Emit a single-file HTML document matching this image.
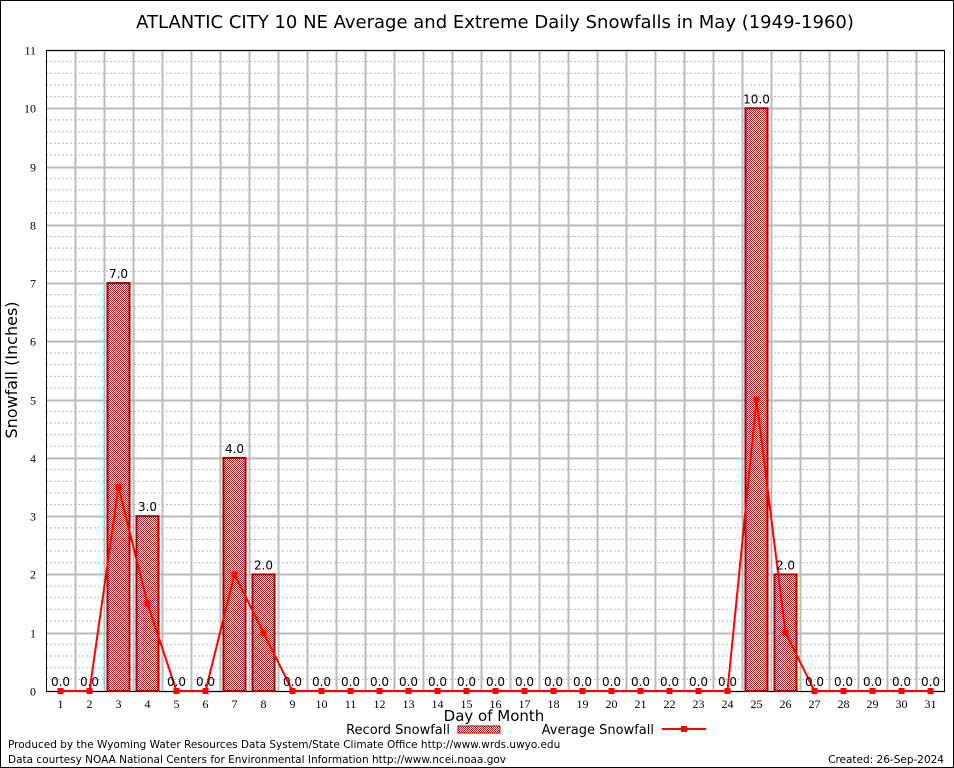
<!DOCTYPE html>
<html><head><meta charset="utf-8"><style>
body{margin:0;background:#fff;}
svg{display:block;}
.t{font-family:"DejaVu Sans","Liberation Sans",sans-serif;}
.s{font-family:"Liberation Serif",serif;}
</style></head><body>
<svg id="c" width="954" height="768">
<defs>
<pattern id="chk" width="2" height="2" patternUnits="userSpaceOnUse">
<rect width="2" height="2" fill="#fff"/><rect width="1" height="1" fill="#b02020"/><rect x="1" y="1" width="1" height="1" fill="#b02020"/>
</pattern>
</defs>
<rect x="0.5" y="0.5" width="953" height="767" fill="none" stroke="#000"/>
<text class="t" x="495" y="28" font-size="18" text-anchor="middle">ATLANTIC CITY 10 NE Average and Extreme Daily Snowfalls in May (1949-1960)</text>
<g id="grid"></g>
<g id="bars"></g>
<g id="line"></g>
<g id="labels"></g>
<text class="t" x="17" y="370" font-size="16" text-anchor="middle" transform="rotate(-90 17 370)">Snowfall (Inches)</text>
<text class="t" x="494" y="721" font-size="15" text-anchor="middle">Day of Month</text>
<g>
<text class="t" x="450" y="734" font-size="13" text-anchor="end">Record Snowfall</text>
<rect x="458" y="726" width="42" height="7" fill="url(#chk)" stroke="#a00000"/>
</g>
<g>
<text class="t" x="654" y="734" font-size="13" text-anchor="end">Average Snowfall</text>
<line x1="662" y1="729" x2="706" y2="729" stroke="red" stroke-width="2"/>
<rect x="681" y="726" width="6" height="6" fill="red"/>
</g>
<text class="t" x="8" y="748" font-size="10.5">Produced by the Wyoming Water Resources Data System/State Climate Office http://www.wrds.uwyo.edu</text>
<text class="t" x="8" y="763" font-size="10.5">Data courtesy NOAA National Centers for Environmental Information http://www.ncei.noaa.gov</text>
<text class="t" x="944" y="763" font-size="10.5" text-anchor="end">Created:  26-Sep-2024</text>
</svg>
<script>
const days=[1,2,3,4,5,6,7,8,9,10,11,12,13,14,15,16,17,18,19,20,21,22,23,24,25,26,27,28,29,30,31];
const recordSnow=[0,0,7,3,0,0,4,2,0,0,0,0,0,0,0,0,0,0,0,0,0,0,0,0,10,2,0,0,0,0,0];
const avgSnow=[0,0,3.5,1.5,0,0,2,1,0,0,0,0,0,0,0,0,0,0,0,0,0,0,0,0,5,1,0,0,0,0,0];
const yTicks=[0,1,2,3,4,5,6,7,8,9,10,11];
const X0=46,X1=945,Y0=691,Y1=50,YMAX=11;
const dw=(X1-X0)/days.length;
const xs=d=>X0+(d-0.5)*dw;
const ys=v=>Y0-v/YMAX*(Y0-Y1);
const NS='http://www.w3.org/2000/svg';
function mk(tag,parent,attrs){const e=document.createElementNS(NS,tag);for(const k in attrs)e.setAttribute(k,attrs[k]);document.getElementById(parent).appendChild(e);return e;}
for(let v=0.2;v<YMAX;v+=0.2){if(Math.abs(v-Math.round(v))<0.01)continue;
 const l=mk('line','grid',{x1:X0,x2:X1,y1:ys(v),y2:ys(v),stroke:'#bbb','stroke-dasharray':'2,2','stroke-width':1});
 }
yTicks.forEach(v=>{const y=Math.round(ys(v))+0.5;
 const l=mk('line','grid',{x1:X0,x2:X1,y1:y,y2:y,stroke:'#bbb','stroke-width':2});
 
 const t=mk('text','grid',{x:X0-10,y:y+4,'font-size':12,'text-anchor':'end',class:'s'});t.textContent=v;
 });
days.forEach(d=>{const x=Math.round(X0+d*dw)+0.5;
 if(d<days.length){const l=mk('line','grid',{x1:x,x2:x,y1:Y1,y2:Y0,stroke:'#bbb','stroke-width':2});
 }
 const t=mk('text','grid',{x:xs(d),y:Y0+17,'font-size':12,'text-anchor':'middle',class:'s'});t.textContent=d;
 });
mk('rect','grid',{x:X0+0.5,y:Y1+0.5,width:X1-X0-1,height:Y0-Y1,fill:'none',stroke:'#000'});
recordSnow.forEach((v,i)=>{const x=xs(days[i]);
 if(v>0){const r=mk('rect','bars',{x:x-11,y:ys(v),width:22,height:Y0-ys(v),fill:'url(#chk)',stroke:'#a00000','stroke-width':2});
 }
 const t=mk('text','labels',{x:x,y:ys(v)-5,'font-size':12,'text-anchor':'middle',class:'t'});t.textContent=v.toFixed(1);
 });
const p=mk('polyline','line',{points:avgSnow.map((v,i)=>xs(days[i])+','+ys(v)).join(' '),fill:'none',stroke:'red','stroke-width':2});

avgSnow.forEach((v,i)=>{const m=mk('rect','line',{x:xs(days[i])-3,y:ys(v)-3,width:6,height:6,fill:'red'});
 });
</script>
</body></html>
